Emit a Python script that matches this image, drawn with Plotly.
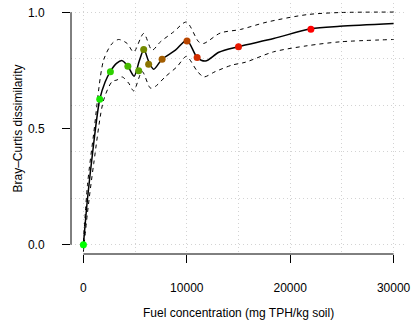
import plotly.graph_objects as go

# ---- data ----
fuel = [0, 1580, 2610, 4300, 5350, 5830, 6310, 7610, 10020, 11000, 15000, 22000]
dissim = [0.0, 0.626, 0.744, 0.768, 0.748, 0.840, 0.776, 0.798, 0.877, 0.806, 0.852, 0.927]

fit_x = [0, 400, 900, 1580, 2100, 2600, 3200, 3750, 4300, 4900, 5400, 5850, 6300, 6800,
         7600, 8900, 10000, 11000, 11800, 13100, 15000, 18400, 22000, 24800, 30000]
fit_y = [0.0, 0.20, 0.40, 0.626, 0.70, 0.745, 0.78, 0.792, 0.768, 0.725, 0.79, 0.840, 0.79, 0.755,
         0.798, 0.837, 0.880, 0.806, 0.790, 0.828, 0.852, 0.887, 0.929, 0.940, 0.952]

upper_x = [0, 400, 1000, 1960, 2780, 3410, 4230, 4860, 5830, 6640, 7450, 8730, 9960,
           11150, 11630, 13250, 15180, 17760, 21630, 24850, 30000]
upper_y = [0.01, 0.26, 0.48, 0.795, 0.866, 0.883, 0.866, 0.829, 0.909, 0.837, 0.873, 0.916, 0.958,
           0.873, 0.866, 0.911, 0.926, 0.958, 0.990, 0.999, 1.001]

lower_x = [0, 400, 1000, 1960, 2780, 3260, 3740, 4380, 4860, 5680, 6480, 6960, 7930, 9060,
           9960, 10990, 11630, 12760, 14380, 15660, 18400, 21630, 24850, 30000]
lower_y = [-0.03, 0.14, 0.35, 0.623, 0.702, 0.709, 0.722, 0.695, 0.662, 0.745, 0.674, 0.681, 0.723, 0.766,
           0.810, 0.748, 0.722, 0.745, 0.773, 0.785, 0.830, 0.856, 0.873, 0.883]

x_ticks = [0, 10000, 20000, 30000]
y_ticks = [0.0, 0.5, 1.0]
x_title = "Fuel concentration (mg TPH/kg soil)"
y_title = "Bray–Curtis dissimilarity"

FONT = "Liberation Sans, Arial, Helvetica, sans-serif"
W, H = 415, 320
ML, MR, MT, MB = 71, 9, 3, 66

fig = go.Figure()

band_line = dict(color="black", width=1, dash="4px,4px", shape="spline", smoothing=0.8)
fig.add_trace(go.Scatter(x=upper_x, y=upper_y, mode="lines", line=band_line, hoverinfo="skip"))
fig.add_trace(go.Scatter(x=lower_x, y=lower_y, mode="lines", line=band_line, hoverinfo="skip"))
fig.add_trace(go.Scatter(x=fit_x, y=fit_y, mode="lines",
                         line=dict(color="black", width=1.5, shape="spline", smoothing=0.8)))
fig.add_trace(go.Scatter(x=fuel, y=dissim, mode="markers",
                         marker=dict(size=7, color=list(range(len(fuel))),
                                     colorscale=[[0, "#00FF00"], [1, "#FF0000"]],
                                     line=dict(width=0))))

# grid-only overlay axis for horizontal dotted lines every 0.2
fig.add_trace(go.Scatter(x=[None], y=[None], yaxis="y2", showlegend=False))

pw = W - ML - MR
ph = H - MT - MB

fig.update_layout(
    width=W, height=H,
    margin=dict(l=ML, r=MR, t=MT, b=MB, autoexpand=False),
    paper_bgcolor="white", plot_bgcolor="white",
    showlegend=False,
    font=dict(family=FONT, size=12, color="black"),
    xaxis=dict(range=[-1200, 31200], tickvals=x_ticks, tickformat="d",
               ticks="outside", ticklen=8, tickwidth=1, tickcolor="black",
               showline=False, zeroline=False,
               showgrid=True, gridcolor="#D3D3D3", griddash="1px,3px", gridwidth=1,
               minor=dict(dtick=5000, tick0=0, showgrid=True, gridcolor="#D3D3D3",
                          griddash="1px,3px", gridwidth=1, ticks=""),
               ticklabelstandoff=15),
    yaxis=dict(range=[-0.04, 1.04], tickvals=y_ticks, tickformat=".1f",
               ticks="outside", ticklen=8, tickwidth=1, tickcolor="black",
               showline=False, zeroline=False, showgrid=False,
               ticklabelstandoff=15),
    yaxis2=dict(range=[-0.04, 1.04], overlaying="y", dtick=0.2, tick0=0,
                showgrid=True, gridcolor="#D3D3D3", griddash="1px,3px", gridwidth=1,
                showticklabels=False, ticks="", zeroline=False, showline=False),
    shapes=[
        dict(type="line", xref="x", yref="paper", x0=0, x1=30000, y0=0, y1=0,
             line=dict(color="black", width=1), layer="above"),
        dict(type="line", xref="paper", yref="y", x0=0, x1=0, y0=0, y1=1,
             line=dict(color="black", width=1), layer="above"),
    ],
    annotations=[
        dict(text=x_title, xref="x", yref="paper", x=15000, y=-(313 - (MT + ph)) / ph,
             xanchor="center", yanchor="middle", showarrow=False, font=dict(size=12)),
        dict(text=y_title, xref="paper", yref="y", x=-(ML - 17) / pw, y=0.5,
             xanchor="center", yanchor="middle", textangle=-90, showarrow=False,
             font=dict(size=12)),
    ],
)

fig.write_html("out.html", config={"displayModeBar": False, "staticPlot": True},
               post_script="document.body.style.margin='0';")
